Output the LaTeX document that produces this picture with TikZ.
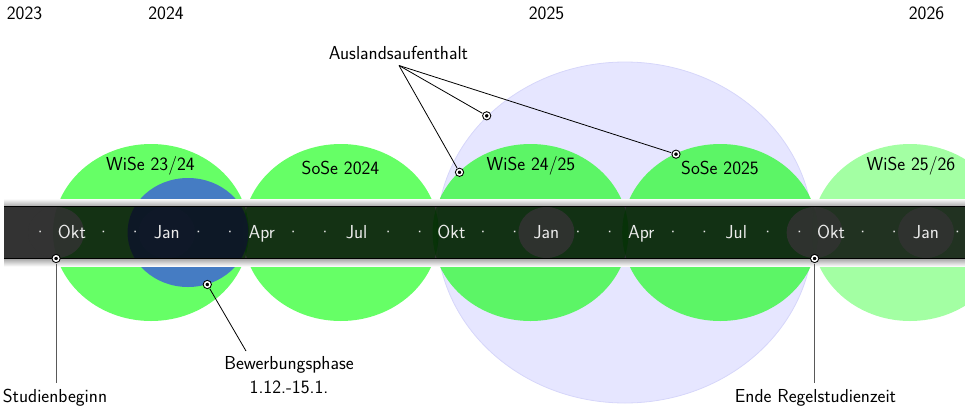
\documentclass[tikz,border=0pt]{standalone}
\usepackage{fontspec}
\usetikzlibrary{calc}
\definecolor{lav}{RGB}{230,230,255}
\definecolor{lavedge}{RGB}{214,214,250}
\definecolor{bluefill}{RGB}{68,114,202}
\definecolor{monthtxt}{RGB}{235,235,235}
\tikzset{
  lbl/.style={font=\fontsize{18.8}{24}\selectfont\sffamily, inner sep=0pt, anchor=base},
  mon/.style={lbl, text=monthtxt},
  semgreen/.style={fill=green, fill opacity=0.6},
  semlight/.style={fill=green, fill opacity=0.36},
  hl/.style={fill=white, fill opacity=0.85},
  marker/.style={circle, inner sep=0pt, minimum size=5.4pt, fill=black, draw=black, double=white, double distance=1.5pt, line width=1pt},
  leader/.style={draw=black, line width=0.8pt, shorten >=1.8pt, shorten <=0pt},
  vleader/.style={draw=black!65, line width=1pt},
}
\begin{document}
\begin{tikzpicture}[x=1pt,y=-1pt]
\useasboundingbox (0,0) rectangle (965,407);
% stay abroad
\path[fill=lav, draw=lavedge, line width=0.8pt] (625,232.5) ellipse [x radius=188pt, y radius=170.5pt];
% semesters
\path[semgreen] (151,232.5) ellipse [x radius=98pt, y radius=88.5pt];
\path[semgreen] (340.8,232.5) ellipse [x radius=98pt, y radius=88.5pt];
\path[semgreen] (530.5,232.5) ellipse [x radius=98pt, y radius=88.5pt];
\path[semgreen] (720.2,232.5) ellipse [x radius=98pt, y radius=88.5pt];
\path[semlight] (910,232.5) ellipse [x radius=98pt, y radius=88.5pt];
% highlighted dates
\foreach \c in {56.1,166.8,546.4,814.6,926.0}
  \path[hl] (\c,232.5) ellipse [x radius=28pt, y radius=25.5pt];
% application phase
\path[fill=bluefill, fill opacity=0.93] (188,232.5) ellipse [x radius=60.5pt, y radius=54.5pt];
% bar
\shade[top color=gray!4, bottom color=gray!65] (4,199) rectangle (975,206);
\fill[black, opacity=0.8] (4,206) rectangle (975,259);
\draw[black, line width=1.1pt] (4,206.4) -- (975,206.4);
\draw[black, line width=1.1pt] (4,258.6) -- (975,258.6);
\shade[top color=gray!65, bottom color=gray!4] (4,259.2) rectangle (975,266);
% months
\foreach \k/\t in {0/Okt,3/Jan,6/Apr,9/Jul,12/Okt,15/Jan,18/Apr,21/Jul,24/Okt,27/Jan}
  \node[mon] (mon\k) at ({56.1+31.63*(\k+0.5)},238.5) {\t};
\foreach \k in {-1,1,2,4,5,7,8,10,11,13,14,16,17,19,20,22,23,25,26,28}
  \node[mon] (dot\k) at ({56.1+31.63*(\k+0.5)},238.5) {·};
% years
\node[lbl] (y2023) at (24.5,19.5) {2023};
\node[lbl] (y2024) at (166,19.5) {2024};
\node[lbl] (y2025) at (546.5,19.5) {2025};
\node[lbl] (y2026) at (926.5,19.5) {2026};
% semester labels
\node[lbl] (s1) at (150.5,170) {WiSe 23/24};
\node[lbl] (s2) at (340.5,174) {SoSe 2024};
\node[lbl] (s3) at (531,170) {WiSe 24/25};
\node[lbl] (s4) at (720,174) {SoSe 2025};
\node[lbl] (s5) at (911,170) {WiSe 25/26};
% annotation texts
\node[lbl] (ausText) at (398.5,59) {Auslandsaufenthalt};
\coordinate (ausRoot) at (399,65.5);
\node[lbl, anchor=north, align=center] (bewText) at (289,356) {Bewerbungsphase\\1.12.-15.1.};
\coordinate (bewEnd) at (246,351);
\node[lbl] (startText) at (55,402) {Studienbeginn};
\coordinate (startEnd) at (56.1,383);
\node[lbl] (endText) at (815.5,402) {Ende Regelstudienzeit};
\coordinate (endEnd) at (814.6,383);
% markers
\node[marker] (mStart) at (56.1,258.5) {};
\node[marker] (mEnd) at (814.6,258.5) {};
\node[marker] (mBew) at (207.3,284.5) {};
\node[marker] (mA1) at (459.5,172.3) {};
\node[marker] (mA2) at (486.7,115.8) {};
\node[marker] (mA3) at (676,154.2) {};
% connectors
\draw[vleader, shorten <=1.8pt] (mStart) -- (startEnd);
\draw[vleader, shorten <=1.8pt] (mEnd) -- (endEnd);
\draw[leader, shorten <=1.8pt, shorten >=0pt] (mBew) -- (bewEnd);
\draw[leader] (ausRoot) -- (mA1);
\draw[leader] (ausRoot) -- (mA2);
\draw[leader] (ausRoot) -- (mA3);
\end{tikzpicture}
\end{document}
